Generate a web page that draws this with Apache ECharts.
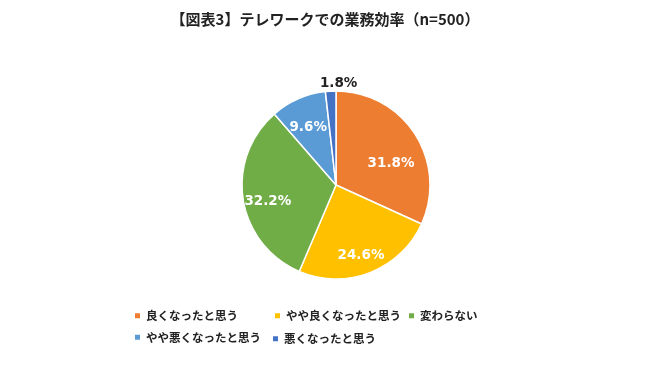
<!DOCTYPE html>
<html><head><meta charset="utf-8">
<script src="https://cdn.jsdelivr.net/npm/echarts@6/dist/echarts.min.js"></script>
<style>html,body{margin:0;padding:0;background:#fff}#c{width:650px;height:380px}</style>
</head><body><div id="c"></div>
<script>
const titleText = '【図表3】テレワークでの業務効率（n=500）';
const categories = ['良くなったと思う','やや良くなったと思う','変わらない','やや悪くなったと思う','悪くなったと思う'];
const values = [31.8, 24.6, 32.2, 9.6, 1.8];
const colors = ['#ED7D31','#FFC000','#70AD47','#5B9BD5','#4472C4'];

const CX = 336, CY = 185, R = 94;
const chart = echarts.init(document.getElementById('c'), null, {renderer:'canvas'});
const jp = '"Noto Sans CJK JP", sans-serif';
const legendText = {fontFamily: jp, fontWeight:'bold', fontSize:11.5, color:'#222'};
function lg(names, left, top, orient){
  return {data: names, left: left, top: top, orient: orient||'horizontal', icon:'rect', itemWidth:7, itemHeight:7, itemGap:10, textStyle: legendText, selectedMode:false, padding:0};
}
chart.setOption({
  backgroundColor:'#fff',
  animation:false,
  title:{text:titleText, left:'center', top:12, padding:[0,13,0,5],
    textStyle:{fontFamily: jp, fontWeight:'bold', fontSize:15, color:'#222'}},
  legend:[
    lg([categories[0], categories[3]], 133, 310, 'vertical'),
    lg([categories[1]], 273, 310),
    lg([categories[2]], 407, 310),
    lg([categories[4]], 271, 333)
  ],
  series:[{
    type:'pie', center:[CX,CY], radius:[0,R], startAngle:90, clockwise:true,
    data: categories.map((n,i)=>({name:n, value:values[i], itemStyle:{color:colors[i]},
      label: i===4 ? {position:'outside', color:'#222'} : {position:'inside'}})),
    itemStyle:{borderColor:'#fff', borderWidth:1.5},
    label:{show:true, formatter: p => p.value.toFixed(1)+'%', color:'#fff',
      fontFamily:'"DejaVu Sans", sans-serif', fontWeight:'bold', fontSize:13.5},
    labelLine:{show:false, length:6, length2:0},
    labelLayout: function(p){
      const r = p.labelRect;
      const mx = r.x + r.width/2, my = r.y + r.height/2;
      if (p.dataIndex === 4) {
        return {x: mx + 32, y: my - 2, align:'center', verticalAlign:'middle'};
      }
      const k = 1.38;
      const extra = p.dataIndex === 0 ? 10 : 0;
      return {x: CX + (mx-CX)*k - (p.dataIndex===0?3:0), y: CY + (my-CY)*k + 6 + extra, align:'center', verticalAlign:'middle'};
    },
    emphasis:{disabled:true}
  }]
});
</script></body></html>
